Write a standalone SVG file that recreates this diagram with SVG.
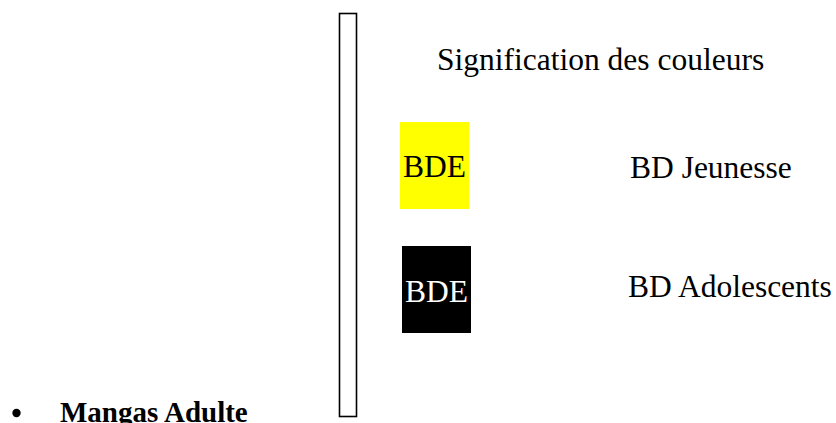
<svg xmlns="http://www.w3.org/2000/svg" width="836" height="423" viewBox="0 0 836 423">
<style>
.t{font-family:"Liberation Serif","Times New Roman",serif;font-size:31.5px;fill:#000}
.w{fill:#fff}
.b{font-weight:bold;font-size:29px}
</style>
<rect width="836" height="423" fill="#fff"/>
<g id="bar"><rect x="339.5" y="13.5" width="17" height="403" fill="#fff" stroke="#000" stroke-width="1.6"/></g>
<g id="title"><text class="t" x="437" y="70">Signification des couleurs</text></g>
<g id="yellow"><rect x="400" y="122" width="69" height="87" fill="#ffff00"/><text class="t" x="403" y="177">BDE</text></g>
<g id="black"><rect x="402" y="246" width="69" height="87" fill="#000"/><text class="t w" x="405" y="301.5">BDE</text></g>
<g id="jeunesse"><text class="t" x="630" y="178">BD Jeunesse</text></g>
<g id="ado"><text class="t" x="628" y="297">BD Adolescents</text></g>
<g id="mangas"><circle cx="16.5" cy="413" r="4.2" fill="#000"/><text class="t b" x="60" y="422">Mangas Adulte</text></g>
<g id="connectors"></g>
</svg>
